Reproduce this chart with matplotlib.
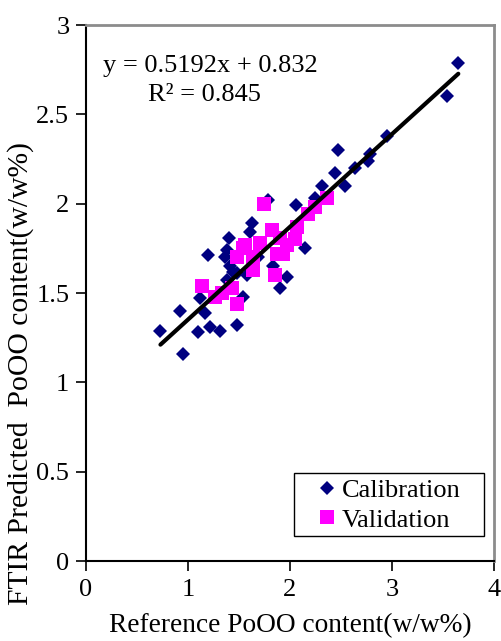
import matplotlib
matplotlib.use("Agg")
import matplotlib.pyplot as plt
from matplotlib.patches import Rectangle
import numpy as np

plt.rcParams['font.family'] = ['Liberation Serif', 'DejaVu Serif']

# Calibration data (reference, predicted)
cal_x = [0.73, 0.95, 0.92, 1.10, 1.22, 1.31, 1.48, 1.12, 1.17, 1.20, 1.36, 1.38,
         1.41, 1.48, 1.38, 1.40, 1.54, 1.61, 1.63, 1.69, 1.78, 1.83, 1.90, 1.97,
         2.06, 2.15, 2.25, 2.31, 2.44, 2.47, 2.54, 2.64, 2.76, 2.78, 2.95, 3.54, 3.65,
         1.44, 1.58]
cal_y = [1.29, 1.16, 1.40, 1.28, 1.31, 1.29, 1.32, 1.47, 1.39, 1.71, 1.70, 1.74,
         1.65, 1.61, 1.57, 1.81, 1.48, 1.84, 1.89, 1.70, 2.02, 1.65, 1.53, 1.59,
         1.99, 1.75, 2.03, 2.10, 2.17, 2.30, 2.10, 2.20, 2.24, 2.28, 2.38, 2.60, 2.79,
         1.62, 1.60]

# Validation data
val_x = [1.75, 1.82, 1.56, 1.48, 1.71, 1.64, 1.87, 1.93, 2.05, 2.07, 2.18, 2.25,
         2.36, 1.85, 1.14, 1.26, 1.43, 1.48, 1.33, 1.64, 1.97, 1.90, 1.54]
val_y = [2.00, 1.85, 1.77, 1.70, 1.78, 1.63, 1.72, 1.72, 1.80, 1.87, 1.94, 1.98,
         2.03, 1.60, 1.54, 1.48, 1.53, 1.44, 1.50, 1.70, 1.77, 1.81, 1.75]

slope, intercept = 0.5192, 0.832
x_ticks = [0, 1, 2, 3, 4]
y_ticks = [0, 0.5, 1, 1.5, 2, 2.5, 3]
y_ticklabels = ['0', '0.5', '1', '1.5', '2', '2.5', '3']

FS = 19

fig = plt.figure(figsize=(5.02, 6.41), dpi=100)
ax = fig.add_axes([86/502, 1-561/641, (494-86)/502, (561-25)/641])

ax.plot(cal_x, cal_y, linestyle='none', marker='D', markersize=7.5,
        color='#000080', markeredgewidth=0, label='Calibration', zorder=3)
ax.plot(val_x, val_y, linestyle='none', marker='s', markersize=10.5,
        color='#FF00FF', markeredgewidth=0, label='Validation', zorder=3)

lx = np.array([min(cal_x), max(cal_x)])
ax.plot(lx, slope*lx + intercept, color='black', linewidth=3, zorder=4,
        solid_capstyle='round')

ax.set_xlim(0, 4)
ax.set_ylim(0, 3)
ax.set_xticks(x_ticks)
ax.set_xticklabels([str(t) for t in x_ticks])
ax.set_yticks(y_ticks)
ax.set_yticklabels(y_ticklabels)
ax.tick_params(axis='both', direction='out', length=7, width=1.2,
               labelsize=FS, colors='black')
ax.tick_params(axis='y', pad=5)
ax.tick_params(axis='x', pad=6)

for s in ['left', 'bottom']:
    ax.spines[s].set_color('black')
    ax.spines[s].set_linewidth(1.5)
for s in ['top', 'right']:
    ax.spines[s].set_color('#8c8c8c')
    ax.spines[s].set_linewidth(2)

ax.set_xlabel('Reference PoOO content(w/w%)', fontsize=19.7)
ax.set_ylabel('FTIR Predicted  PoOO content(w/w%)', fontsize=21.3)
ax.xaxis.set_label_coords(0.5, -0.098)
ax.yaxis.set_label_coords(-0.128, 0.349)

ax.text(0.042, 0.923, 'y = 0.5192x + 0.832', transform=ax.transAxes,
        fontsize=FS, ha='left', va='center')
ax.text(0.29, 0.869, 'R² = 0.845', transform=ax.transAxes,
        fontsize=FS, ha='center', va='center')

# legend frame (Excel style, wider than content)
ax.add_patch(Rectangle((0.51, 0.0466), 0.465, 0.1174, transform=ax.transAxes,
                       facecolor='white', edgecolor='black', linewidth=1,
                       zorder=5))
leg = ax.legend(loc='upper left', bbox_to_anchor=(0.556, 0.163),
                fontsize=FS, frameon=False,
                handlelength=0.7, handletextpad=0.2, borderpad=0.2,
                labelspacing=0.22, borderaxespad=0)
leg.set_zorder(6)

fig.savefig('out.png', dpi=100)
